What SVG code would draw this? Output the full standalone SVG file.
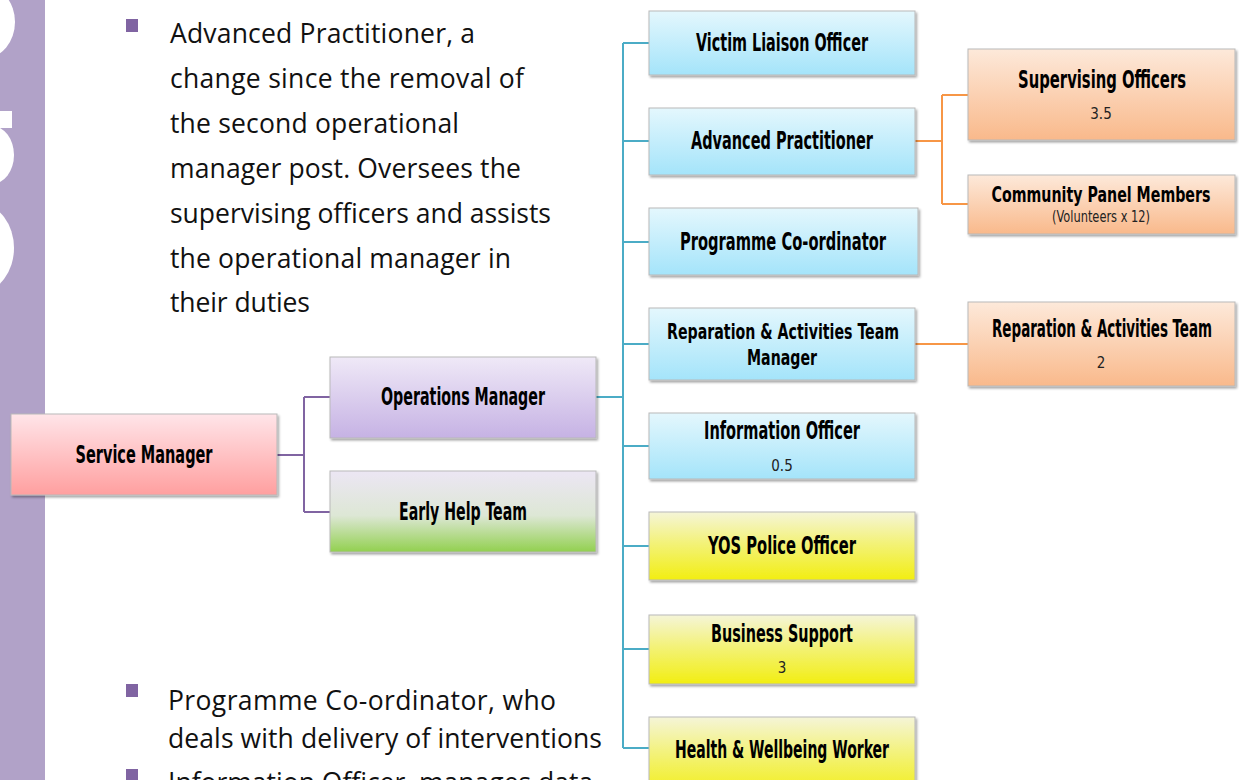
<svg xmlns="http://www.w3.org/2000/svg" width="1239" height="780" viewBox="0 0 1239 780">
  <defs>
    <linearGradient id="gPink" x1="0" y1="0" x2="0" y2="1">
      <stop offset="0" stop-color="#ffe5e9"/>
      <stop offset="1" stop-color="#ff9f9f"/>
    </linearGradient>
    <linearGradient id="gLav" x1="0" y1="0" x2="0" y2="1">
      <stop offset="0" stop-color="#efe9f7"/>
      <stop offset="1" stop-color="#c6b2e4"/>
    </linearGradient>
    <linearGradient id="gGreen" x1="0" y1="0" x2="0" y2="1">
      <stop offset="0" stop-color="#ece6f4"/>
      <stop offset="0.55" stop-color="#dde7d5"/>
      <stop offset="1" stop-color="#92d04f"/>
    </linearGradient>
    <linearGradient id="gBlue" x1="0" y1="0" x2="0" y2="1">
      <stop offset="0" stop-color="#e4f7fd"/>
      <stop offset="1" stop-color="#a4e4fa"/>
    </linearGradient>
    <linearGradient id="gYellow" x1="0" y1="0" x2="0" y2="1">
      <stop offset="0" stop-color="#f5f5d8"/>
      <stop offset="0.45" stop-color="#f3f27a"/>
      <stop offset="1" stop-color="#f2ee12"/>
    </linearGradient>
    <linearGradient id="gOrange" x1="0" y1="0" x2="0" y2="1">
      <stop offset="0" stop-color="#fde9da"/>
      <stop offset="1" stop-color="#f9b98b"/>
    </linearGradient>
    <filter id="shadow" x="-5%" y="-10%" width="112%" height="130%">
      <feDropShadow dx="1.5" dy="2" stdDeviation="1" flood-color="#000" flood-opacity="0.35"/>
    </filter>
    <clipPath id="stripClip">
      <rect x="0" y="0" width="45" height="780"/>
    </clipPath>
  </defs>
  <style>
    .box { stroke: #b9b9b9; stroke-width: 1; filter: url(#shadow); }
    .pink { fill: url(#gPink); }
    .lav { fill: url(#gLav); }
    .green { fill: url(#gGreen); }
    .blue { fill: url(#gBlue); }
    .yellow { fill: url(#gYellow); }
    .orange { fill: url(#gOrange); }
    .lbl { font-family: "Liberation Sans Narrow", "DejaVu Sans Condensed", "Liberation Sans", sans-serif; font-weight: bold; font-size: 24px; fill: #000; text-anchor: middle; }
    .lbl2 { font-size: 22px; }
    .sub { font-family: "Liberation Sans Narrow", "DejaVu Sans Condensed", "Liberation Sans", sans-serif; font-size: 15px; fill: #222; text-anchor: middle; }
    .body { font-family: "Open Sans", "Noto Sans", "Liberation Sans", sans-serif; font-size: 26.5px; fill: #111; }
    .bullet { fill: #8064a2; }
    .c-purple { stroke: #8064a2; stroke-width: 2; fill: none; }
    .c-blue { stroke: #4bacc6; stroke-width: 2; fill: none; }
    .c-orange { stroke: #f79646; stroke-width: 2; fill: none; }
  </style>

  <rect width="1239" height="780" fill="#ffffff"/>

  <!-- side band with large white lettering running off its edge -->
  <g id="side-band">
    <rect x="0" y="0" width="45" height="780" fill="#b1a2c8"/>
    <g clip-path="url(#stripClip)" fill="#ffffff">
      <ellipse cx="-15" cy="22" rx="30" ry="36"/>
      <rect x="0" y="111" width="12" height="17"/>
      <ellipse cx="-8" cy="155" rx="22" ry="29"/>
      <ellipse cx="-20" cy="248" rx="34" ry="44"/>
    </g>
  </g>

  <!-- bullet notes -->
  <g id="notes-top">
    <rect class="bullet" x="126" y="19" width="12" height="13"/>
    <text class="body" x="170" y="43" textLength="305" lengthAdjust="spacing">Advanced Practitioner, a</text>
    <text class="body" x="170" y="88" textLength="354" lengthAdjust="spacing">change since the removal of</text>
    <text class="body" x="170" y="133" textLength="289" lengthAdjust="spacing">the second operational</text>
    <text class="body" x="170" y="178" textLength="351" lengthAdjust="spacing">manager post. Oversees the</text>
    <text class="body" x="170" y="223" textLength="381" lengthAdjust="spacing">supervising officers and assists</text>
    <text class="body" x="170" y="268" textLength="341" lengthAdjust="spacing">the operational manager in</text>
    <text class="body" x="170" y="312" textLength="140" lengthAdjust="spacing">their duties</text>
  </g>
  <g id="notes-bottom">
    <rect class="bullet" x="126" y="684" width="12" height="13"/>
    <text class="body" x="168" y="710" textLength="388" lengthAdjust="spacing">Programme Co-ordinator, who</text>
    <text class="body" x="168" y="748" textLength="434" lengthAdjust="spacing">deals with delivery of interventions</text>
    <rect class="bullet" x="126" y="769" width="12" height="13"/>
    <text class="body" x="168" y="792">Information Officer, manages data</text>
  </g>

  <!-- connectors -->
  <g id="connectors">
    <path class="c-purple" d="M277 455 H304 M304 397 V512 M304 397 H330 M304 512 H330"/>
    <path class="c-blue" d="M596 397 H623 M623 43 V748 M623 43 H649 M623 141 H649 M623 242 H649 M623 344 H649 M623 446 H649 M623 546 H649 M623 649 H649 M623 748 H649"/>
    <path class="c-orange" d="M915 141 H942 M942 95 V204 M942 95 H968 M942 204 H968 M915 344 H968"/>
  </g>

  <!-- nodes -->
  <g id="service-manager">
    <rect class="box pink" x="11" y="414" width="266" height="81"/>
    <text class="lbl" x="144" y="463" textLength="137" lengthAdjust="spacingAndGlyphs">Service Manager</text>
  </g>
  <g id="operations-manager">
    <rect class="box lav" x="330" y="357" width="266" height="81"/>
    <text class="lbl" x="463" y="405" textLength="164" lengthAdjust="spacingAndGlyphs">Operations Manager</text>
  </g>
  <g id="early-help-team">
    <rect class="box green" x="330" y="471" width="266" height="81"/>
    <text class="lbl" x="463" y="520" textLength="128" lengthAdjust="spacingAndGlyphs">Early Help Team</text>
  </g>

  <g id="victim-liaison-officer">
    <rect class="box blue" x="649" y="11" width="266" height="64"/>
    <text class="lbl" x="782" y="51" textLength="172" lengthAdjust="spacingAndGlyphs">Victim Liaison Officer</text>
  </g>
  <g id="advanced-practitioner">
    <rect class="box blue" x="649" y="108" width="266" height="67"/>
    <text class="lbl" x="782" y="149" textLength="182" lengthAdjust="spacingAndGlyphs">Advanced Practitioner</text>
  </g>
  <g id="programme-coordinator">
    <rect class="box blue" x="649" y="208" width="269" height="67"/>
    <text class="lbl" x="783" y="250" textLength="206" lengthAdjust="spacingAndGlyphs">Programme Co-ordinator</text>
  </g>
  <g id="reparation-manager">
    <rect class="box blue" x="649" y="308" width="266" height="72"/>
    <text class="lbl lbl2" x="783" y="339" textLength="232" lengthAdjust="spacingAndGlyphs">Reparation &amp; Activities Team</text>
    <text class="lbl lbl2" x="782" y="365" textLength="70" lengthAdjust="spacingAndGlyphs">Manager</text>
  </g>
  <g id="information-officer">
    <rect class="box blue" x="649" y="413" width="266" height="66"/>
    <text class="lbl" x="782" y="439" textLength="156" lengthAdjust="spacingAndGlyphs">Information Officer</text>
    <text class="sub" x="782" y="471">0.5</text>
  </g>
  <g id="yos-police-officer">
    <rect class="box yellow" x="649" y="512" width="266" height="68"/>
    <text class="lbl" x="782" y="554" textLength="148" lengthAdjust="spacingAndGlyphs">YOS Police Officer</text>
  </g>
  <g id="business-support">
    <rect class="box yellow" x="649" y="615" width="266" height="69"/>
    <text class="lbl" x="782" y="642" textLength="142" lengthAdjust="spacingAndGlyphs">Business Support</text>
    <text class="sub" x="782" y="673">3</text>
  </g>
  <g id="health-wellbeing-worker">
    <rect class="box yellow" x="649" y="717" width="266" height="80"/>
    <text class="lbl" x="782" y="758" textLength="214" lengthAdjust="spacingAndGlyphs">Health &amp; Wellbeing Worker</text>
  </g>

  <g id="supervising-officers">
    <rect class="box orange" x="968" y="49" width="267" height="91"/>
    <text class="lbl" x="1102" y="88" textLength="168" lengthAdjust="spacingAndGlyphs">Supervising Officers</text>
    <text class="sub" x="1101" y="119">3.5</text>
  </g>
  <g id="community-panel-members">
    <rect class="box orange" x="968" y="175" width="267" height="59"/>
    <text class="lbl lbl2" x="1101" y="202" textLength="219" lengthAdjust="spacingAndGlyphs">Community Panel Members</text>
    <text class="sub" x="1101" y="222" textLength="98" lengthAdjust="spacingAndGlyphs">(Volunteers  x 12)</text>
  </g>
  <g id="reparation-team">
    <rect class="box orange" x="968" y="302" width="267" height="84"/>
    <text class="lbl" x="1102" y="337" textLength="220" lengthAdjust="spacingAndGlyphs">Reparation &amp; Activities Team</text>
    <text class="sub" x="1101" y="368">2</text>
  </g>
</svg>
